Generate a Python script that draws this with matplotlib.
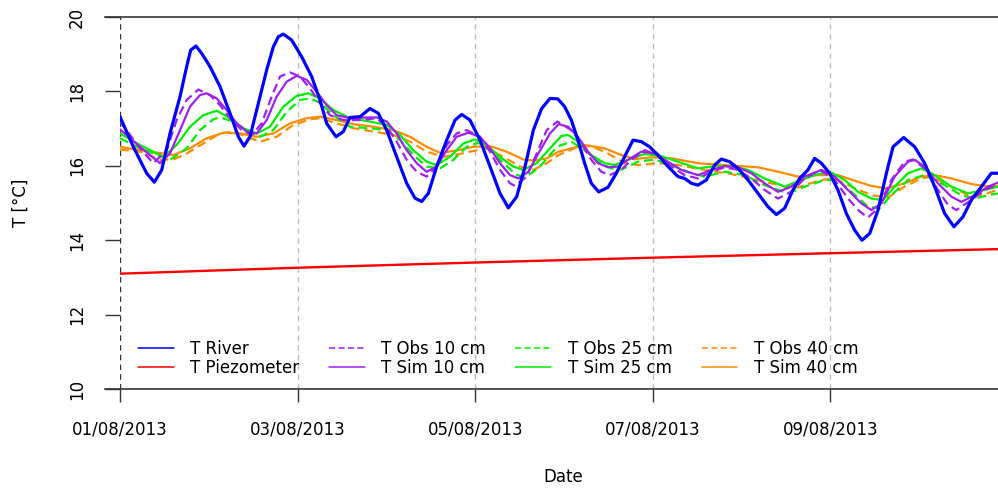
import matplotlib
matplotlib.use("Agg")
import matplotlib.pyplot as plt
import matplotlib.dates as mdates
import pandas as pd
import numpy as np

plt.rcParams['font.family'] = ['DejaVu Sans']

# ---------------- data (days since 01/08/2013, temperature in °C) ----------------
river_d = [0.000, 0.150, 0.300, 0.387, 0.470, 0.563, 0.676, 0.751, 0.796, 0.856, 0.920, 1.013, 1.126, 1.239,
           1.333, 1.396, 1.464, 1.558, 1.652, 1.727, 1.783, 1.839, 1.933, 2.046, 2.158, 2.252, 2.327, 2.432,
           2.515, 2.590, 2.703, 2.815, 2.909, 3.003, 3.116, 3.228, 3.322, 3.397, 3.472, 3.566, 3.679, 3.773,
           3.848, 3.941, 4.054, 4.167, 4.279, 4.373, 4.467, 4.561, 4.655, 4.748, 4.842, 4.930, 5.007, 5.082,
           5.157, 5.232, 5.307, 5.390, 5.495, 5.589, 5.683, 5.777, 5.870, 5.964, 6.058, 6.171, 6.283, 6.358,
           6.434, 6.509, 6.603, 6.696, 6.771, 6.865, 6.959, 7.072, 7.184, 7.297, 7.391, 7.485, 7.578, 7.653,
           7.747, 7.822, 7.898, 7.991, 8.085, 8.179, 8.273, 8.355, 8.442, 8.536, 8.630, 8.705, 8.825, 8.949,
           9.061, 9.174, 9.286, 9.391, 9.493, 9.587, 9.700, 9.812, 9.887]
river_v = [17.32, 16.51, 15.80, 15.56, 15.89, 16.87, 17.86, 18.67, 19.11, 19.22, 19.02, 18.67, 18.13, 17.41,
           16.78, 16.53, 16.78, 17.68, 18.58, 19.20, 19.47, 19.54, 19.38, 18.93, 18.40, 17.77, 17.14, 16.78,
           16.92, 17.30, 17.32, 17.54, 17.41, 16.96, 16.24, 15.53, 15.13, 15.04, 15.26, 15.98, 16.69, 17.23,
           17.38, 17.23, 16.69, 15.98, 15.26, 14.87, 15.17, 15.98, 16.96, 17.54, 17.81, 17.80, 17.59, 17.23,
           16.69, 16.07, 15.53, 15.30, 15.42, 15.80, 16.25, 16.69, 16.65, 16.51, 16.29, 15.98, 15.71, 15.66,
           15.53, 15.48, 15.62, 16.02, 16.18, 16.11, 15.93, 15.62, 15.26, 14.90, 14.69, 14.86, 15.35, 15.66,
           15.89, 16.20, 16.07, 15.80, 15.35, 14.72, 14.27, 14.00, 14.18, 14.81, 15.80, 16.51, 16.76, 16.51,
           16.07, 15.44, 14.72, 14.36, 14.63, 15.08, 15.44, 15.80, 15.80]

piezo_d = [0.0, 2.0, 4.0, 6.0, 8.0, 9.887]
piezo_v = [13.10, 13.26, 13.40, 13.53, 13.65, 13.76]

obs10_d = [0.000, 0.225, 0.375, 0.526, 0.638, 0.751, 0.882, 1.013, 1.126, 1.257, 1.370, 1.483, 1.595, 1.708,
           1.802, 1.914, 2.027, 2.140, 2.252, 2.365, 2.515, 2.703, 2.890, 3.003, 3.116, 3.228, 3.341, 3.453,
           3.566, 3.679, 3.791, 3.904, 4.054, 4.167, 4.279, 4.392, 4.448, 4.580, 4.692, 4.805, 4.925, 5.082,
           5.195, 5.307, 5.420, 5.514, 5.645, 5.758, 5.908, 6.058, 6.208, 6.358, 6.509, 6.660, 6.810, 6.959,
           7.109, 7.259, 7.410, 7.560, 7.710, 7.879, 8.048, 8.198, 8.330, 8.423, 8.536, 8.686, 8.836, 8.930,
           9.061, 9.211, 9.324, 9.418, 9.587, 9.737, 9.887]
obs10_v = [17.19, 16.47, 16.07, 16.42, 17.23, 17.77, 18.05, 17.90, 17.63, 17.23, 16.96, 16.83, 17.14, 17.86,
           18.40, 18.51, 18.40, 18.08, 17.68, 17.36, 17.23, 17.23, 17.28, 17.05, 16.65, 16.16, 15.84, 15.71,
           15.98, 16.56, 16.87, 16.96, 16.78, 16.38, 15.89, 15.53, 15.46, 15.71, 16.33, 16.96, 17.19, 16.96,
           16.60, 16.16, 15.84, 15.75, 15.89, 16.16, 16.42, 16.29, 15.98, 15.75, 15.66, 15.84, 15.96, 15.89,
           15.66, 15.35, 15.12, 15.30, 15.66, 15.89, 15.62, 15.12, 14.77, 14.61, 14.86, 15.62, 16.11, 16.17,
           15.93, 15.35, 14.95, 14.81, 15.08, 15.35, 15.51]

sim10_d = [0.000, 0.225, 0.450, 0.563, 0.676, 0.788, 0.900, 0.976, 1.089, 1.201, 1.314, 1.426, 1.539, 1.652,
           1.764, 1.877, 1.990, 2.102, 2.215, 2.327, 2.440, 2.590, 2.778, 2.890, 3.003, 3.116, 3.228, 3.341,
           3.453, 3.566, 3.679, 3.791, 3.923, 4.054, 4.167, 4.279, 4.392, 4.486, 4.598, 4.711, 4.842, 4.940,
           5.045, 5.157, 5.270, 5.383, 5.495, 5.608, 5.720, 5.870, 6.021, 6.171, 6.321, 6.509, 6.660, 6.810,
           6.959, 7.109, 7.259, 7.410, 7.560, 7.710, 7.898, 8.048, 8.198, 8.348, 8.461, 8.573, 8.723, 8.873,
           8.949, 9.061, 9.211, 9.362, 9.474, 9.624, 9.775, 9.887]
sim10_v = [16.98, 16.51, 16.07, 16.33, 16.96, 17.59, 17.90, 17.95, 17.81, 17.50, 17.14, 16.92, 16.87, 17.23,
           17.86, 18.26, 18.42, 18.31, 17.99, 17.63, 17.36, 17.28, 17.30, 17.30, 17.19, 16.87, 16.42, 16.07,
           15.84, 15.98, 16.42, 16.78, 16.89, 16.78, 16.47, 16.07, 15.75, 15.66, 15.84, 16.33, 16.87, 17.12,
           17.05, 16.78, 16.38, 16.07, 15.96, 15.98, 16.16, 16.38, 16.33, 16.11, 15.89, 15.75, 15.89, 15.99,
           15.96, 15.80, 15.53, 15.30, 15.44, 15.71, 15.89, 15.71, 15.35, 14.99, 14.81, 14.99, 15.71, 16.11,
           16.16, 15.98, 15.53, 15.17, 15.03, 15.21, 15.44, 15.55]

obs25_d = [0.000, 0.225, 0.563, 0.751, 0.901, 1.051, 1.126, 1.276, 1.426, 1.577, 1.727, 1.877, 2.027, 2.140,
           2.252, 2.402, 2.590, 2.815, 3.003, 3.153, 3.303, 3.453, 3.604, 3.754, 3.904, 4.035, 4.167, 4.317,
           4.467, 4.580, 4.730, 4.880, 4.960, 5.082, 5.232, 5.383, 5.533, 5.645, 5.833, 6.021, 6.208, 6.434,
           6.584, 6.809, 7.034, 7.259, 7.522, 7.710, 7.935, 8.085, 8.235, 8.423, 8.555, 8.686, 8.873, 9.061,
           9.249, 9.474, 9.624, 9.775, 9.887]
obs25_v = [16.74, 16.47, 16.16, 16.47, 16.96, 17.25, 17.30, 17.19, 16.96, 16.78, 16.96, 17.45, 17.77, 17.81,
           17.70, 17.36, 17.05, 17.01, 16.96, 16.69, 16.29, 15.98, 15.93, 16.16, 16.51, 16.62, 16.42, 16.07,
           15.75, 15.71, 15.98, 16.40, 16.55, 16.65, 16.42, 16.11, 15.93, 15.90, 16.11, 16.17, 16.02, 15.80,
           15.71, 15.84, 15.75, 15.48, 15.26, 15.44, 15.62, 15.62, 15.30, 14.90, 14.86, 15.21, 15.62, 15.75,
           15.53, 15.21, 15.12, 15.21, 15.26]

sim25_d = [0.000, 0.225, 0.488, 0.638, 0.788, 0.938, 1.089, 1.239, 1.389, 1.539, 1.689, 1.839, 1.990, 2.121,
           2.252, 2.402, 2.590, 2.815, 3.003, 3.153, 3.303, 3.453, 3.566, 3.716, 3.866, 3.998, 4.129, 4.279,
           4.429, 4.542, 4.692, 4.842, 4.970, 5.045, 5.157, 5.307, 5.458, 5.570, 5.720, 5.908, 6.096, 6.283,
           6.509, 6.696, 6.884, 7.072, 7.259, 7.485, 7.672, 7.860, 8.010, 8.160, 8.311, 8.461, 8.592, 8.723,
           8.873, 9.024, 9.174, 9.362, 9.549, 9.737, 9.887]
sim25_v = [16.87, 16.56, 16.24, 16.56, 17.05, 17.36, 17.48, 17.28, 17.01, 16.87, 17.05, 17.59, 17.88, 17.95,
           17.81, 17.50, 17.28, 17.19, 17.10, 16.83, 16.42, 16.11, 16.02, 16.24, 16.60, 16.71, 16.56, 16.24,
           15.98, 15.89, 16.07, 16.47, 16.80, 16.83, 16.65, 16.29, 16.07, 16.02, 16.16, 16.32, 16.26, 16.11,
           15.93, 15.99, 15.99, 15.89, 15.66, 15.44, 15.62, 15.78, 15.82, 15.62, 15.30, 15.12, 15.08, 15.44,
           15.80, 15.93, 15.75, 15.44, 15.26, 15.35, 15.44]

obs40_d = [0.000, 0.225, 0.450, 0.600, 0.751, 0.938, 1.126, 1.276, 1.426, 1.577, 1.764, 1.952, 2.140, 2.252,
           2.440, 2.628, 2.853, 3.078, 3.266, 3.453, 3.641, 3.829, 4.017, 4.129, 4.317, 4.505, 4.655, 4.805,
           4.940, 5.157, 5.307, 5.495, 5.683, 5.833, 6.058, 6.283, 6.584, 6.884, 7.184, 7.485, 7.635, 7.898,
           8.048, 8.235, 8.461, 8.649, 8.836, 9.024, 9.136, 9.362, 9.549, 9.700, 9.887]
obs40_v = [16.44, 16.38, 16.16, 16.17, 16.33, 16.60, 16.87, 16.92, 16.78, 16.65, 16.78, 17.10, 17.25, 17.28,
           17.14, 17.01, 16.92, 16.83, 16.65, 16.38, 16.24, 16.32, 16.42, 16.47, 16.24, 15.98, 15.89, 16.07,
           16.29, 16.51, 16.53, 16.33, 16.07, 16.02, 16.07, 16.02, 15.89, 15.78, 15.62, 15.44, 15.42, 15.62,
           15.66, 15.44, 15.21, 15.15, 15.44, 15.66, 15.71, 15.44, 15.21, 15.21, 15.35]

sim40_d = [0.000, 0.225, 0.488, 0.600, 0.788, 0.976, 1.164, 1.351, 1.539, 1.727, 1.914, 2.102, 2.252, 2.440,
           2.628, 2.853, 3.078, 3.266, 3.453, 3.604, 3.791, 3.979, 4.167, 4.354, 4.542, 4.655, 4.805, 4.940,
           5.232, 5.458, 5.645, 5.796, 5.983, 6.208, 6.509, 6.809, 7.184, 7.410, 7.635, 7.860, 8.085, 8.311,
           8.461, 8.630, 8.836, 9.024, 9.174, 9.362, 9.587, 9.775, 9.887]
sim40_v = [16.51, 16.42, 16.33, 16.29, 16.47, 16.74, 16.89, 16.87, 16.78, 16.87, 17.14, 17.28, 17.32, 17.23,
           17.12, 17.05, 16.96, 16.78, 16.51, 16.35, 16.41, 16.51, 16.53, 16.38, 16.17, 16.14, 16.20, 16.38,
           16.56, 16.47, 16.29, 16.18, 16.23, 16.20, 16.07, 16.02, 15.96, 15.84, 15.71, 15.75, 15.75, 15.57,
           15.46, 15.39, 15.53, 15.71, 15.75, 15.66, 15.51, 15.44, 15.46]

tick_dates = ['2013-08-01', '2013-08-03', '2013-08-05', '2013-08-07', '2013-08-09']
y_ticks = [10, 12, 14, 16, 18, 20]

start = pd.Timestamp('2013-08-01')
def to_t(d):
    return start + pd.to_timedelta(np.asarray(d), unit='D')

# ---------------- figure ----------------
W, H = 998, 488
fig = plt.figure(figsize=(W / 100, H / 100), dpi=100)
L, R, T, B = 120, 998, 17, 389
ax = fig.add_axes([L / W, 1 - B / H, (R - L) / W, (B - T) / H])

purple = '#A020F0'
green = '#00EE00'
orange = '#FF8C00'

# grid lines
for i, d in enumerate(tick_dates):
    ax.axvline(pd.Timestamp(d), color='#333333' if i == 0 else '#BEBEBE',
               lw=1.0, ls=(0, (4, 3)), zorder=1)

dash = (0, (4, 2.2))
common = dict(solid_joinstyle='round', solid_capstyle='round')
ax.plot(to_t(river_d), river_v, color='#0000FF', lw=2.3, label='T River', zorder=5, **common)
ax.plot(to_t(piezo_d), piezo_v, color='#FF0000', lw=1.7, label='T Piezometer', zorder=5, **common)
ax.plot(to_t(obs10_d), obs10_v, color=purple, lw=1.6, ls=dash, label='T Obs 10 cm', zorder=4)
ax.plot(to_t(sim10_d), sim10_v, color=purple, lw=1.6, label='T Sim 10 cm', zorder=4, **common)
ax.plot(to_t(obs25_d), obs25_v, color=green, lw=1.6, ls=dash, label='T Obs 25 cm', zorder=3)
ax.plot(to_t(sim25_d), sim25_v, color=green, lw=1.6, label='T Sim 25 cm', zorder=3, **common)
ax.plot(to_t(obs40_d), obs40_v, color=orange, lw=1.6, ls=dash, label='T Obs 40 cm', zorder=2)
ax.plot(to_t(sim40_d), sim40_v, color=orange, lw=1.6, label='T Sim 40 cm', zorder=2, **common)

ax.set_xlim(start, start + pd.Timedelta(days=9.887))
ax.set_ylim(10, 20)

for s in ['left', 'right', 'top', 'bottom']:
    ax.spines[s].set_visible(False)
# top and bottom lines extending slightly to the left
for yy in (0, 1):
    ax.plot([-15 / (R - L), 1], [yy, yy], transform=ax.transAxes, color='#333333',
            lw=1.2, clip_on=False, zorder=6)

ax.set_xticks([pd.Timestamp(d) for d in tick_dates])
ax.xaxis.set_major_formatter(mdates.DateFormatter('%d/%m/%Y'))
ax.set_yticks(y_ticks)
ax.tick_params(axis='x', length=9.5, width=1.0, pad=13, labelsize=12, color='#333333')
ax.tick_params(axis='y', length=10.5, width=1.0, pad=14, labelsize=12, color='#333333')
for lab in ax.get_yticklabels():
    lab.set_rotation(90)
    lab.set_va('center')

ax.set_xlabel('Date', fontsize=12)
ax.xaxis.set_label_coords((563 - L) / (R - L), -(477 - B) / (B - T), transform=ax.transAxes)
ax.xaxis.label.set_va('center')
ax.set_ylabel('T [°C]', fontsize=12)
ax.yaxis.set_label_coords(-(L - 21) / (R - L), 0.5, transform=ax.transAxes)
ax.yaxis.label.set_va('center')

leg = ax.legend(ncol=4, frameon=False, fontsize=12, loc='upper left',
                bbox_to_anchor=(138 / W, 1 - 340 / H), bbox_transform=fig.transFigure,
                borderpad=0, borderaxespad=0, handlelength=2.15, handletextpad=1.0,
                columnspacing=1.75, labelspacing=0.05)
for h in leg.get_lines():
    h.set_linewidth(1.1)

fig.savefig('out.png', dpi=100)
